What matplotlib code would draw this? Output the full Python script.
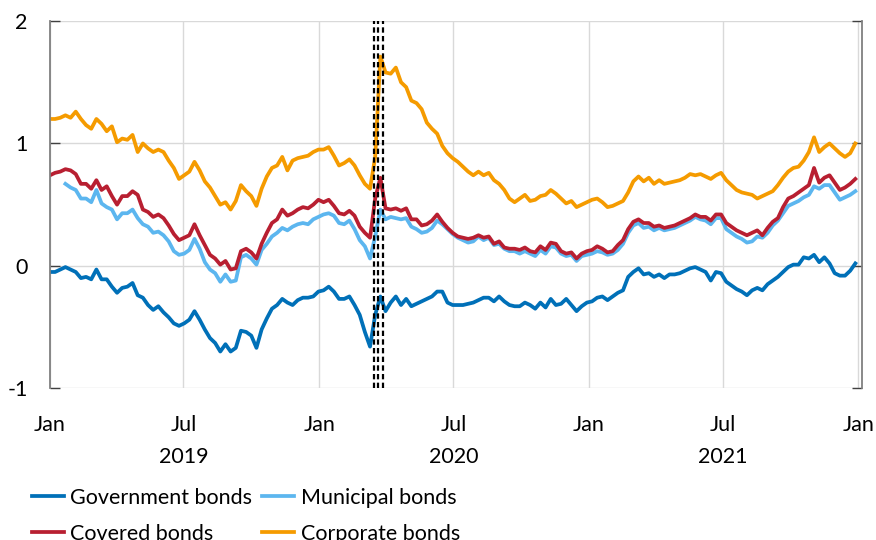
import numpy as np
import pandas as pd
import matplotlib.pyplot as plt
import matplotlib.dates as mdates

plt.rcParams['font.family'] = ['Lato', 'DejaVu Sans']
plt.rcParams['axes.unicode_minus'] = False

dates = pd.date_range('2019-01-01', periods=157, freq='7D')

government = [
    -0.05, -0.05, -0.03, -0.01, -0.03, -0.05, -0.10, -0.09, -0.11, -0.03, -0.11, -0.11, -0.17, -0.22,
    -0.18, -0.17, -0.14, -0.24, -0.26, -0.32, -0.36, -0.33, -0.38, -0.42, -0.47, -0.49, -0.47, -0.44,
    -0.37, -0.44, -0.52, -0.59, -0.63, -0.70, -0.64, -0.70, -0.67, -0.53, -0.54, -0.57, -0.67, -0.52,
    -0.43, -0.35, -0.32, -0.27, -0.30, -0.32, -0.28, -0.26, -0.26, -0.25, -0.21, -0.20, -0.17,
    -0.21, -0.27, -0.27, -0.25, -0.32, -0.40, -0.54, -0.66, -0.40, -0.25, -0.37, -0.30, -0.25, -0.32,
    -0.27, -0.33, -0.31, -0.29, -0.27, -0.25, -0.21, -0.21, -0.30, -0.32, -0.32,
    -0.32, -0.31, -0.30, -0.28, -0.26, -0.26, -0.29, -0.25, -0.29, -0.32, -0.33, -0.33, -0.30, -0.32,
    -0.35, -0.30, -0.34, -0.27, -0.32, -0.31, -0.27, -0.32, -0.37, -0.33, -0.30, -0.29,
    -0.26, -0.25, -0.28, -0.25, -0.22, -0.20, -0.09, -0.05, -0.02, -0.07, -0.06, -0.09, -0.07, -0.10,
    -0.07, -0.07, -0.06, -0.04, -0.02, -0.01, -0.03, -0.05, -0.12, -0.05, -0.06, -0.13,
    -0.16, -0.19, -0.21, -0.24, -0.20, -0.18, -0.20, -0.15, -0.12, -0.09, -0.05, -0.01, 0.01, 0.01,
    0.07, 0.06, 0.09, 0.03, 0.07, 0.02, -0.06, -0.08, -0.08, -0.04, 0.02,
]

municipal = [
    np.nan, np.nan, np.nan, 0.67, 0.64, 0.62, 0.55, 0.55, 0.52, 0.62, 0.51, 0.48, 0.46, 0.38,
    0.43, 0.43, 0.46, 0.39, 0.34, 0.32, 0.27, 0.28, 0.25, 0.20, 0.12, 0.09, 0.10, 0.13,
    0.22, 0.14, 0.03, -0.03, -0.06, -0.13, -0.07, -0.13, -0.12, 0.07, 0.09, 0.06, 0.01, 0.13,
    0.18, 0.24, 0.27, 0.31, 0.29, 0.32, 0.34, 0.35, 0.34, 0.38, 0.40, 0.42, 0.43,
    0.41, 0.35, 0.34, 0.37, 0.30, 0.21, 0.16, 0.06, 0.24, 0.46, 0.38, 0.40, 0.39, 0.38,
    0.39, 0.32, 0.30, 0.27, 0.28, 0.31, 0.37, 0.34, 0.30, 0.26, 0.23,
    0.21, 0.19, 0.20, 0.24, 0.21, 0.23, 0.17, 0.18, 0.14, 0.12, 0.12, 0.10, 0.12, 0.10,
    0.08, 0.13, 0.10, 0.16, 0.15, 0.10, 0.08, 0.09, 0.04, 0.08, 0.09, 0.10,
    0.12, 0.11, 0.09, 0.10, 0.13, 0.18, 0.27, 0.33, 0.35, 0.31, 0.32, 0.29, 0.31, 0.29,
    0.30, 0.31, 0.33, 0.35, 0.37, 0.40, 0.38, 0.37, 0.34, 0.39, 0.39, 0.30,
    0.27, 0.24, 0.22, 0.19, 0.20, 0.24, 0.23, 0.27, 0.33, 0.37, 0.43, 0.49, 0.51, 0.53,
    0.56, 0.58, 0.65, 0.63, 0.66, 0.66, 0.60, 0.54, 0.56, 0.58, 0.61,
]

covered = [
    0.74, 0.76, 0.77, 0.79, 0.78, 0.75, 0.67, 0.67, 0.63, 0.70, 0.62, 0.65, 0.57, 0.50,
    0.57, 0.57, 0.61, 0.58, 0.46, 0.44, 0.40, 0.42, 0.39, 0.33, 0.26, 0.21, 0.23, 0.25,
    0.34, 0.25, 0.17, 0.09, 0.06, 0.01, 0.04, -0.03, -0.02, 0.12, 0.14, 0.11, 0.06, 0.18,
    0.27, 0.35, 0.38, 0.46, 0.41, 0.43, 0.46, 0.48, 0.47, 0.50, 0.54, 0.52, 0.54,
    0.49, 0.43, 0.42, 0.45, 0.41, 0.32, 0.27, 0.23, 0.55, 0.72, 0.47, 0.46, 0.47, 0.45,
    0.47, 0.38, 0.38, 0.33, 0.34, 0.37, 0.42, 0.36, 0.31, 0.27, 0.24,
    0.23, 0.22, 0.23, 0.25, 0.23, 0.24, 0.18, 0.20, 0.15, 0.14, 0.14, 0.13, 0.15, 0.12,
    0.11, 0.16, 0.13, 0.19, 0.18, 0.12, 0.10, 0.11, 0.06, 0.10, 0.12, 0.13,
    0.16, 0.14, 0.11, 0.12, 0.17, 0.21, 0.30, 0.36, 0.38, 0.35, 0.35, 0.32, 0.33, 0.31,
    0.32, 0.33, 0.35, 0.37, 0.39, 0.42, 0.40, 0.40, 0.37, 0.42, 0.42, 0.35,
    0.32, 0.29, 0.27, 0.25, 0.27, 0.29, 0.25, 0.31, 0.36, 0.39, 0.48, 0.55, 0.57, 0.60,
    0.63, 0.66, 0.80, 0.68, 0.72, 0.74, 0.68, 0.62, 0.64, 0.67, 0.71,
]

corporate = [
    1.20, 1.20, 1.21, 1.23, 1.21, 1.26, 1.20, 1.15, 1.12, 1.20, 1.16, 1.10, 1.14, 1.01,
    1.04, 1.03, 1.07, 0.93, 1.00, 0.96, 0.93, 0.95, 0.93, 0.86, 0.80, 0.71, 0.74, 0.77,
    0.85, 0.78, 0.69, 0.64, 0.57, 0.50, 0.52, 0.46, 0.53, 0.66, 0.61, 0.57, 0.49, 0.63,
    0.73, 0.80, 0.82, 0.89, 0.78, 0.86, 0.88, 0.89, 0.90, 0.93, 0.95, 0.95, 0.97,
    0.90, 0.82, 0.84, 0.87, 0.82, 0.74, 0.67, 0.63, 0.89, 1.71, 1.58, 1.57, 1.62, 1.50,
    1.46, 1.35, 1.33, 1.28, 1.17, 1.12, 1.08, 0.98, 0.92, 0.88, 0.85,
    0.81, 0.77, 0.74, 0.77, 0.74, 0.76, 0.70, 0.67, 0.62, 0.55, 0.52, 0.55, 0.58, 0.53,
    0.54, 0.57, 0.58, 0.62, 0.59, 0.55, 0.51, 0.53, 0.48, 0.50, 0.52, 0.54,
    0.55, 0.52, 0.48, 0.49, 0.51, 0.53, 0.60, 0.69, 0.73, 0.69, 0.72, 0.67, 0.70, 0.67,
    0.68, 0.69, 0.70, 0.72, 0.75, 0.74, 0.75, 0.73, 0.71, 0.74, 0.76, 0.70,
    0.66, 0.62, 0.60, 0.59, 0.58, 0.55, 0.57, 0.59, 0.61, 0.66, 0.72, 0.77, 0.80, 0.81,
    0.86, 0.93, 1.05, 0.93, 0.97, 1.00, 0.96, 0.92, 0.89, 0.92, 1.00,
]

# event dates marked with dashed lines (March 2020)
events = ['2020-03-16', '2020-03-21', '2020-03-27']

years = ['2019', '2020', '2021']
year_centres = ['2019-07-01', '2020-07-01', '2021-07-01']

fs = 15.5

fig = plt.figure(figsize=(8.76, 5.4), dpi=100)
ax = fig.add_axes([0.057, 0.281, 0.927, 0.680])

l_gov, = ax.plot(dates, government, color='#0070b8', lw=2.7, label='Government bonds')
l_mun, = ax.plot(dates, municipal, color='#5cb6ef', lw=2.7, label='Municipal bonds')
l_cov, = ax.plot(dates, covered, color='#b81f31', lw=2.7, label='Covered bonds')
l_cor, = ax.plot(dates, corporate, color='#f59b00', lw=2.7, label='Corporate bonds')

for d in events:
    ax.axvline(pd.Timestamp(d), color='black', lw=1.6, linestyle=(0, (2.4, 1.5)), zorder=5)

ax.set_ylim(-1, 2)
ax.set_yticks([-1, 0, 1, 2])
ax.set_xlim(pd.Timestamp('2019-01-01'), pd.Timestamp('2022-01-06'))
ax.set_xticks(pd.to_datetime(['2019-01-01', '2019-07-01', '2020-01-01', '2020-07-01',
                              '2021-01-01', '2021-07-01', '2022-01-01']))
ax.xaxis.set_major_formatter(mdates.DateFormatter('%b'))

ax.grid(True, color='#d9d9d9', lw=1)
ax.set_axisbelow(True)
for s in ['top', 'bottom']:
    ax.spines[s].set_visible(False)
for s in ['left', 'right']:
    ax.spines[s].set_color('#808080')
    ax.spines[s].set_linewidth(1.3)

ax.tick_params(axis='y', direction='in', length=7, width=1, color='#404040',
               left=True, right=True, labelsize=fs, pad=16)
ax.tick_params(axis='x', length=0, labelsize=fs, pad=19)

for yr, c in zip(years, year_centres):
    ax.text(pd.Timestamp(c), -0.188, yr, transform=ax.get_xaxis_transform(),
            ha='center', va='center', fontsize=fs)

# ncol=2 fills column by column, so order the handles to read row by row
fig.legend([l_gov, l_cov, l_mun, l_cor],
           ['Government bonds', 'Covered bonds', 'Municipal bonds', 'Corporate bonds'],
           loc='upper left', bbox_to_anchor=(0.036, 0.097), ncol=2, frameon=False,
           fontsize=fs, handlelength=1.5, handletextpad=0.3, columnspacing=0.45,
           labelspacing=0.75, borderpad=0, borderaxespad=0)

fig.savefig('out.png', dpi=100)
